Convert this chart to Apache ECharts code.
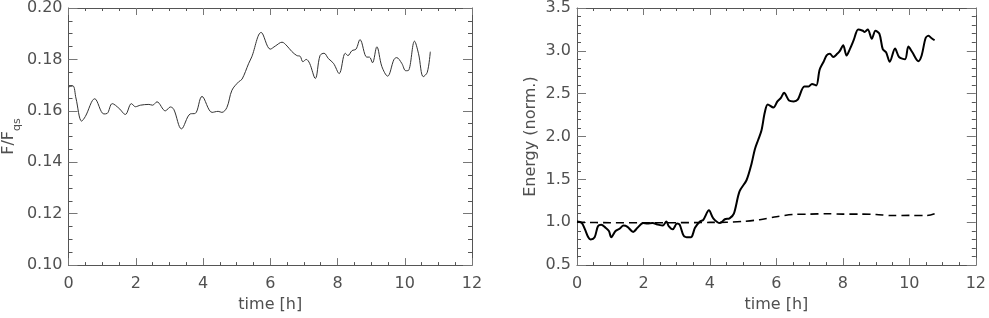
<!DOCTYPE html>
<html><head><meta charset="utf-8">
<script src="https://cdn.jsdelivr.net/npm/echarts@6/dist/echarts.min.js"></script>
<style>html,body{margin:0;padding:0;background:#fff}#c{width:989px;height:318px}</style>
</head><body><div id="c"></div>
<script>
var fluxT = [0.00,0.13,0.22,0.39,0.50,0.78,1.05,1.15,1.30,1.50,1.69,1.87,1.99,2.14,2.39,2.50,2.63,2.88,3.03,3.13,3.36,3.62,3.77,3.97,4.27,4.45,4.56,4.71,4.86,5.06,5.16,5.36,5.45,5.73,6.00,6.15,6.35,6.50,6.64,6.79,6.89,6.97,7.07,7.17,7.34,7.48,7.60,7.73,7.88,8.05,8.23,8.31,8.43,8.55,8.67,8.87,8.95,9.04,9.17,9.32,9.49,9.68,9.76,9.91,10.03,10.11,10.29,10.41,10.55,10.67,10.76];
var fluxV = [0.1693,0.1697,0.165,0.156,0.1578,0.1647,0.1588,0.159,0.1628,0.161,0.1586,0.1628,0.1616,0.1622,0.1625,0.1622,0.1635,0.160,0.1615,0.1606,0.153,0.1588,0.1590,0.1656,0.1594,0.1598,0.1594,0.1613,0.168,0.1713,0.1723,0.1785,0.181,0.1905,0.184,0.1852,0.1867,0.1852,0.1831,0.1815,0.1812,0.1791,0.180,0.1785,0.1726,0.1815,0.1824,0.1803,0.1785,0.1745,0.1824,0.1815,0.1834,0.184,0.1877,0.1809,0.1809,0.1787,0.1849,0.1772,0.1735,0.180,0.1807,0.1785,0.1756,0.1757,0.1871,0.1822,0.1733,0.175,0.183];
var energyT = [0.00,0.14,0.24,0.34,0.41,0.53,0.63,0.73,0.86,0.96,1.03,1.16,1.28,1.40,1.52,1.69,1.82,1.99,2.12,2.27,2.44,2.58,2.69,2.76,2.88,3.01,3.09,3.21,3.36,3.45,3.55,3.70,3.80,3.97,4.10,4.30,4.45,4.59,4.72,4.89,5.10,5.25,5.35,5.45,5.55,5.65,5.74,5.91,6.03,6.13,6.23,6.38,6.52,6.64,6.84,6.97,7.07,7.20,7.30,7.42,7.51,7.61,7.71,7.83,7.91,8.01,8.11,8.21,8.33,8.46,8.60,8.65,8.75,8.87,8.98,9.10,9.20,9.30,9.41,9.57,9.69,9.87,9.97,10.09,10.27,10.37,10.49,10.58,10.66,10.76];
var energyV = [1.01,0.995,0.917,0.824,0.80,0.824,0.954,0.972,0.935,0.898,0.824,0.898,0.924,0.961,0.946,0.887,0.935,0.99,0.984,0.99,0.972,0.961,1.009,0.954,0.917,0.984,0.972,0.843,0.824,0.83,0.935,1.009,1.028,1.139,1.046,0.99,1.035,1.046,1.10,1.36,1.49,1.68,1.85,1.96,2.07,2.28,2.374,2.338,2.41,2.448,2.51,2.42,2.41,2.43,2.585,2.585,2.614,2.596,2.78,2.873,2.946,2.965,2.928,2.965,3.0,3.065,2.946,3.02,3.13,3.25,3.234,3.22,3.25,3.14,3.234,3.198,3.02,2.983,2.873,3.027,2.928,2.902,3.05,2.983,2.88,2.946,3.15,3.175,3.15,3.124];
var refT = [0,1,2,3,4,4.5,5.0,5.5,6.0,6.5,7.0,7.5,8.0,8.5,9.0,9.5,10.0,10.5,10.76];
var refV = [1.0,0.995,0.995,0.995,0.998,1.0,1.01,1.03,1.065,1.09,1.095,1.1,1.095,1.095,1.09,1.078,1.08,1.078,1.10];
var xTicks = [0,2,4,6,8,10,12];

function pairs(t, v){ return t.map(function(x,i){return [x, v[i]];}); }

var FONT = 'DejaVu Sans';
var TXT = '#505050';
var LINE = '#555';

function xAx(gi, top){
  return {
    type:'value', gridIndex:gi, min:0, max:12, interval:2, position: top?'top':'bottom',
    name: top ? '' : 'time [h]', nameLocation:'middle', nameGap:24,
    nameTextStyle:{fontFamily:FONT, fontSize:16, color:TXT},
    axisLine:{show:true, onZero:false, lineStyle:{color:LINE, width:1}},
    axisTick:{show:true, inside:true, length:7, lineStyle:{color:'#777'}},
    minorTick:{show:true, splitNumber:4, length:3, lineStyle:{color:'#555'}},
    axisLabel:{show:!top, margin:11, fontFamily:FONT, fontSize:16, color:TXT,
      formatter:function(v){return xTicks.indexOf(v)>=0 ? String(v) : '';}},
    splitLine:{show:false}
  };
}
function yAx(gi, right, min, max, interval, minorSplit, dec, name, gap){
  return {
    type:'value', gridIndex:gi, min:min, max:max, interval:interval, position: right?'right':'left',
    name: right ? '' : name, nameLocation:'middle', nameGap:gap, nameRotate:90,
    nameTextStyle:{fontFamily:FONT, fontSize:16, color:TXT,
      rich:{sub:{fontFamily:FONT, fontSize:11, color:TXT, verticalAlign:'bottom', padding:[0,0,-6,0]}}},
    axisLine:{show:true, onZero:false, lineStyle:{color:LINE, width:1}},
    axisTick:{show:true, inside:true, length:9, lineStyle:{color:'#777'}},
    minorTick:{show:true, splitNumber:minorSplit, length:4, lineStyle:{color:'#555'}},
    axisLabel:{show:!right, margin:6, fontFamily:FONT, fontSize:16, color:TXT,
      formatter:function(v){return v.toFixed(dec);}},
    splitLine:{show:false}
  };
}

var chart = echarts.init(document.getElementById('c'), null, {renderer:'canvas'});
chart.setOption({
  animation:false,
  backgroundColor:'#fff',
  grid:[
    {left:68, top:1, width:404, height:270},
    {left:577, top:1, width:404, height:270}
  ],
  xAxis:[xAx(0,false), xAx(0,true), xAx(1,false), xAx(1,true)],
  yAxis:[
    yAx(0,false,0.10,0.20,0.02,4,2,'F/F{sub|qs}',48),
    yAx(0,true,0.10,0.20,0.02,4,2,'',0),
    yAx(1,false,0.5,3.5,0.5,5,1,'Energy (norm.)',38),
    yAx(1,true,0.5,3.5,0.5,5,1,'',0)
  ],
  series:[
    {type:'line', xAxisIndex:0, yAxisIndex:0, data:pairs(fluxT,fluxV), smooth:0.35, showSymbol:false,
     lineStyle:{color:'#333', width:1}},
    {type:'line', xAxisIndex:2, yAxisIndex:2, data:pairs(refT,refV), smooth:0.3, showSymbol:false,
     lineStyle:{color:'#000', width:1.6, type:[8,5]}},
    {type:'line', xAxisIndex:2, yAxisIndex:2, data:pairs(energyT,energyV), smooth:0.3, showSymbol:false,
     lineStyle:{color:'#000', width:2}}
  ]
});
</script></body></html>
